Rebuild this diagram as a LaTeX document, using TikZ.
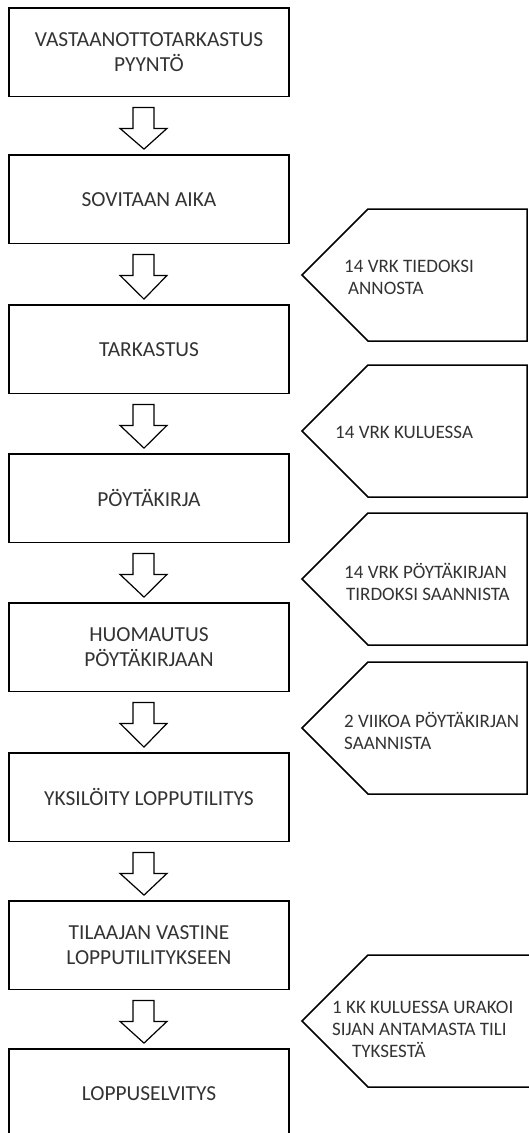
\documentclass[tikz,border=0pt]{standalone}
\usepackage{fontspec}
\setmainfont{Carlito}
\usetikzlibrary{calc}
\begin{document}
\begin{tikzpicture}[x=1pt,y=-1pt,
  box/.style={draw, line width=1.8pt, minimum width=280pt, minimum height=88.5pt, inner sep=0pt, align=center, text=black!80, font=\fontsize{21.4}{25}\selectfont},
  blockarrow/.style={draw, line width=1.2pt, fill=white, line join=miter},
  tag/.style={draw, line width=1.5pt, line join=miter},
  tagtext/.style={anchor=west, align=left, inner sep=0pt, text=black!80, font=\fontsize{19}{22}\selectfont}]
\useasboundingbox (0,0) rectangle (529,1133);
\fill[white] (0,0) rectangle (529,1133);
\clip (0,0) rectangle (529,1133);
% process boxes
\node[box] (b1) at (149,52.25) {VASTAANOTTOTARKASTUS\\PYYNTÖ};
\node[box] (b2) at (149,199.25) {SOVITAAN AIKA};
\node[box] (b3) at (149,349.25) {TARKASTUS};
\node[box] (b4) at (149,498.25) {PÖYTÄKIRJA};
\node[box] (b5) at (149,647.25) {HUOMAUTUS\\PÖYTÄKIRJAAN};
\node[box] (b6) at (149,797.25) {YKSILÖITY LOPPUTILITYS};
\node[box] (b7) at (149,945.25) {TILAAJAN VASTINE\\LOPPUTILITYKSEEN};
\node[box] (b8) at (149,1093.25) {LOPPUSELVITYS};
% block arrows
\foreach \a/\b in {b1/b2,b2/b3,b3/b4,b4/b5,b5/b6,b6/b7,b7/b8}{
  \draw[blockarrow] ($(\a.south)+(-16,10)$) -- ($(\a.south)+(5,10)$) -- ($(\a.south)+(5,31)$) -- ($(\a.south)+(18,31)$) -- ($(\b.north)+(-5,-5)$) -- ($(\a.south)+(-29,31)$) -- ($(\a.south)+(-16,31)$) -- cycle;
}
% pentagon tags
\foreach \t/\r in {209/527,365/527,513/527,662/527,955/545}{
  \draw[tag] (\r,\t) -- (368,\t) -- (302,{\t+66}) -- (368,{\t+132}) -- (\r,{\t+132}) -- cycle;
}
\node[tagtext] (t1) at (344,277) {14 VRK TIEDOKSI\\\hspace*{4pt}ANNOSTA};
\node[tagtext] (t2) at (335,432) {14 VRK KULUESSA};
\node[tagtext] (t3) at (344,582) {14 VRK PÖYTÄKIRJAN\\\hspace*{2pt}TIRDOKSI SAANNISTA};
\node[tagtext] (t4) at (344,730.5) {2 VIIKOA PÖYTÄKIRJAN\\SAANNISTA};
\node[tagtext] (t5) at (332,1029) {1 KK KULUESSA URAKOI\\SIJAN ANTAMASTA TILI\\\hspace*{20pt}TYKSESTÄ};
\end{tikzpicture}
\end{document}
